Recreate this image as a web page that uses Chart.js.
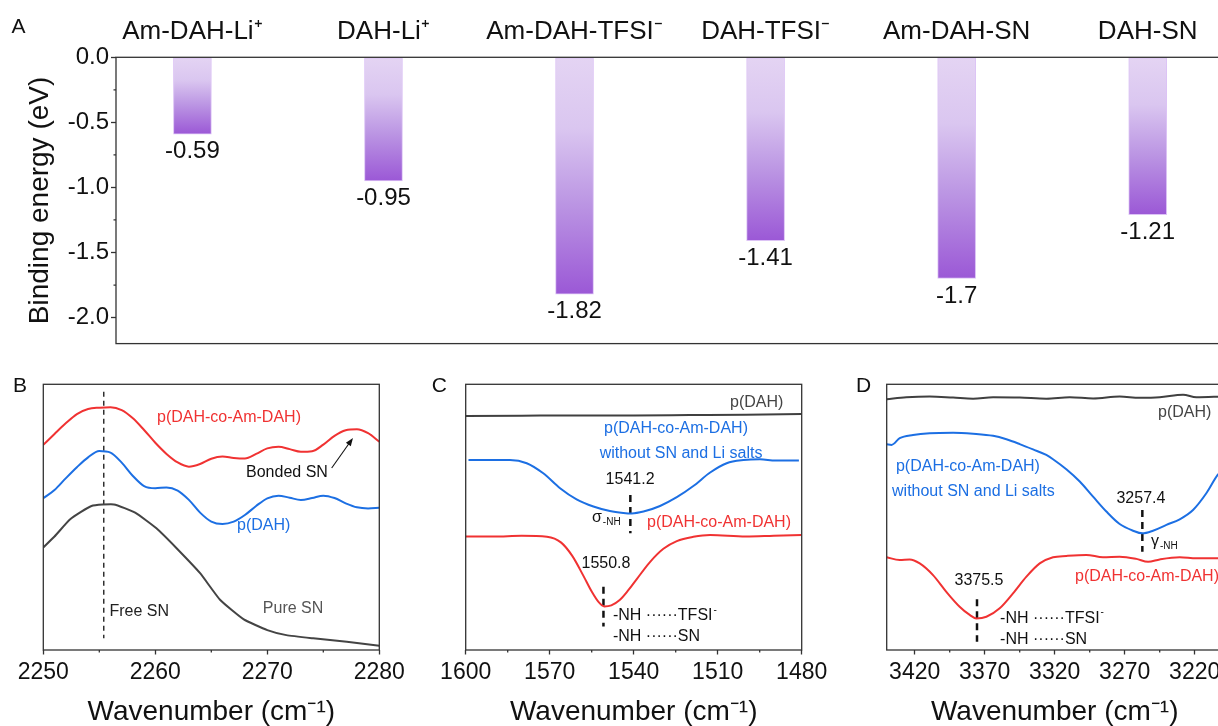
<!DOCTYPE html>
<html>
<head>
<meta charset="utf-8">
<title>Binding energy and FTIR</title>
<script src="https://cdn.jsdelivr.net/npm/chart.js@4.4.1/dist/chart.umd.min.js"></script>
<style>
  html, body { margin: 0; padding: 0; background: #fff; }
  #fig { position: relative; width: 1218px; height: 726px; overflow: hidden; }
  #fig canvas { position: absolute; }
</style>
</head>
<body>
<div id="fig">
  <canvas id="chartA" width="1310" height="360" style="left:0;top:0"></canvas>
  <canvas id="chartB" width="410" height="366" style="left:0;top:360px"></canvas>
  <canvas id="chartC" width="430" height="366" style="left:410px;top:360px"></canvas>
  <canvas id="chartD" width="440" height="366" style="left:820px;top:360px"></canvas>
</div>
<script>
var FONT = "'Liberation Sans', Arial, Helvetica, sans-serif";
Chart.defaults.font.family = FONT;
Chart.defaults.color = '#111';

// ---- A: binding energies ----
var aCats = ['Am-DAH-Li⁺', 'DAH-Li⁺', 'Am-DAH-TFSI⁻', 'DAH-TFSI⁻', 'Am-DAH-SN', 'DAH-SN'];
var aVals = [-0.59, -0.95, -1.82, -1.41, -1.7, -1.21];
var aTicks = [0, -0.5, -1, -1.5, -2];
var aMinor = [-0.25, -0.75, -1.25, -1.75];

// ---- B: C≡N region ----
var bWave = [2250, 2251, 2252, 2253, 2254, 2255, 2256, 2257, 2258, 2259, 2260, 2261, 2262, 2263, 2264, 2265,
             2266, 2267, 2268, 2269, 2270, 2271, 2272, 2273, 2274, 2275, 2276, 2277, 2278, 2279, 2280];
var bRed = [77.2, 81.3, 85.3, 88.8, 90.7, 91.2, 91.4, 90.3, 87.2, 82.8, 78.0, 73.8, 70.6, 69.0, 70.0, 72.0,
            72.8, 72.3, 72.1, 73.8, 75.9, 76.5, 75.6, 74.6, 74.8, 77.3, 80.6, 82.7, 83.1, 81.6, 78.4];
var bBlue = [57.1, 60.2, 64.6, 68.8, 72.5, 74.9, 74.3, 70.5, 65.5, 61.7, 60.9, 61.2, 60.0, 56.5, 51.7, 48.3,
             47.4, 48.3, 50.8, 54.2, 57.1, 58.1, 57.3, 56.5, 57.2, 58.1, 57.2, 55.2, 53.7, 53.3, 53.5];
var bPureWave = [2250, 2251, 2252.4, 2254.3, 2256.3, 2258.2, 2260.1, 2261.9, 2264, 2265.8, 2267.9, 2270, 2271.7, 2274.1, 2277.1, 2280];
var bPure = [38.6, 42.7, 49.2, 54.2, 54.8, 51.7, 45.8, 38.3, 28.9, 18.8, 11.5, 7.5, 5.6, 4.4, 3.1, 1.6];
var bPeaks = [2255.4];
var bPeakTop = [97.2];
var bPeakBot = [4.4];
var bTicks = [2250, 2260, 2270, 2280];
var bMinor = [2255, 2265, 2275];

// ---- C: N-H bending ----
var cGrayWave = [1600, 1580, 1560, 1540, 1520, 1500, 1480];
var cGray = [88.1, 88.2, 88.3, 88.3, 88.4, 88.5, 88.8];
var cBlueWave = [1599, 1584.2, 1578.2, 1572.3, 1566.3, 1560.4, 1554.4, 1548.5, 1543.7, 1540.7, 1536.5,
                 1530.6, 1524.6, 1518.7, 1512.7, 1506.8, 1500.8, 1494.9, 1489.3, 1481];
var cBlue = [71.5, 71.5, 70.3, 66.5, 60.9, 56.7, 54.0, 52.3, 51.6, 51.4, 52.1,
             54.2, 57.5, 61.7, 66.8, 70.3, 71.5, 71.8, 71.3, 71.3];
var cRedWave = [1600, 1590, 1580, 1571, 1566, 1562, 1558, 1555, 1552.5, 1550.5, 1548, 1545, 1542,
                1538.9, 1534.2, 1529.4, 1524.6, 1518.7, 1512.7, 1500, 1490, 1480];
var cRed = [42.7, 42.7, 43.0, 42.6, 40.5, 35.5, 28.0, 22.0, 18.0, 16.4, 16.8, 18.8, 22.4,
            26.7, 33.1, 38.1, 41.0, 42.6, 43.3, 42.7, 43.0, 43.3];
var cPeaks = [1541.2, 1550.8];
var cPeakTop = [58.3, 23.8];
var cPeakBot = [43.9, 8.8];
var cTicks = [1600, 1570, 1540, 1510, 1480];
var cMinor = [1585, 1555, 1525, 1495];

// ---- D: N-H stretching ----
var dGrayWave = [3440, 3426, 3409.3, 3392.6, 3378.3, 3364, 3345, 3326, 3309.3, 3292.6, 3273.6, 3259.3, 3245, 3228.3, 3218.8, 3200];
var dGray = [94.4, 95.1, 95.4, 95.0, 94.6, 95.1, 95.0, 94.6, 95.1, 94.7, 95.4, 94.9, 95.1, 96.1, 95.1, 95.4];
var dBlueWave = [3440, 3436.6, 3430.7, 3421.2, 3409.3, 3392.6, 3378.3, 3364, 3354.5, 3345, 3335.5, 3326, 3321.2, 3311.7,
                 3302.1, 3292.6, 3283.1, 3273.6, 3264, 3257.4, 3249.8, 3240.2, 3230.7, 3221.2, 3211.7, 3203.6, 3200];
var dBlue = [77.4, 77.2, 79.7, 80.9, 81.6, 81.8, 81.4, 80.6, 79.3, 77.5, 75.5, 73.4, 71.8, 68.0,
             63.4, 57.7, 52.1, 47.4, 44.9, 43.9, 44.9, 47.1, 49.2, 52.7, 59.0, 65.9, 67.8];
var dRedWave = [3440, 3430.7, 3423.6, 3416.4, 3406.9, 3397.4, 3387.9, 3380.7, 3376, 3368.8, 3359.3, 3349.8, 3340.2,
                3330.7, 3321.2, 3311.7, 3297.4, 3285.5, 3273.6, 3261.7, 3253.3, 3245, 3230.7, 3218.8, 3200];
var dRed = [34.9, 33.9, 34.1, 32.6, 28.2, 21.9, 16.3, 13.2, 11.9, 12.5, 15.7, 21.3, 27.6,
            32.6, 34.9, 35.4, 35.8, 34.9, 35.1, 34.3, 33.2, 34.1, 34.9, 34.5, 34.5];
var dPeaks = [3257.4, 3375.5];
var dPeakTop = [52.7, 19.1];
var dPeakBot = [37.0, 3.1];
var dTicks = [3420, 3370, 3320, 3270, 3220];
var dMinor = [3395, 3345, 3295, 3245];

var RED = '#f03232', BLUE = '#1c6fe3', GRAY = '#404040';
var NOTE = 16;

function pts(xs, ys) {
    return xs.map(function(x, i) { return {x: x, y: ys[i]}; });
}

function curve(xs, ys, color, extra) {
    return Object.assign({
        data: pts(xs, ys),
        borderColor: color,
        borderWidth: 2,
        pointRadius: 0,
        fill: false,
        cubicInterpolationMode: 'monotone'
    }, extra || {});
}

// dashed vertical markers at the peak positions
function markers(xs, tops, bots, width, dash) {
    return xs.map(function(x, i) {
        return {
            data: [{x: x, y: tops[i]}, {x: x, y: bots[i]}],
            borderColor: '#111',
            borderWidth: width,
            borderDash: dash,
            borderCapStyle: 'butt',
            pointRadius: 0,
            fill: false
        };
    });
}

function wnAxis(min, max, rev, major) {
    return {
        type: 'linear',
        min: min,
        max: max,
        reverse: rev,
        afterBuildTicks: function(s) { s.ticks = major.map(function(v) { return {value: v}; }); },
        afterFit: function(s) { s.height = 76; },
        ticks: {
            font: {size: 23},
            padding: 4,
            maxRotation: 0,
            autoSkip: false,
            color: '#111',
            callback: function(v) { return String(v); }
        },
        grid: {display: true, drawOnChartArea: false, tickLength: 4.5, tickColor: '#333', tickWidth: 1.3},
        border: {display: false},
        title: {
            display: true,
            text: 'Wavenumber (cm⁻¹)',
            color: '#111',
            font: {size: 28, lineHeight: 1},
            padding: {top: 0, bottom: 0}
        }
    };
}

// frame, minor ticks, panel letter, text notes and arrows
function deco(cfg) {
    return {
        id: 'deco',
        afterDraw: function(chart) {
            var ctx = chart.ctx, a = chart.chartArea;
            var xs = chart.scales.x, ys = chart.scales.y;
            ctx.save();
            ctx.strokeStyle = '#333';
            ctx.lineWidth = 1.3;
            ctx.strokeRect(a.left, a.top, a.right - a.left, a.bottom - a.top);

            var ms = chart.scales[cfg.minorAxis];
            ctx.beginPath();
            cfg.minor.forEach(function(v) {
                var p = ms.getPixelForValue(v);
                if (ms.isHorizontal()) { ctx.moveTo(p, a.bottom); ctx.lineTo(p, a.bottom + 2.5); }
                else { ctx.moveTo(a.left, p); ctx.lineTo(a.left - 2.5, p); }
            });
            ctx.stroke();

            ctx.fillStyle = '#111';
            ctx.font = '21px ' + FONT;
            ctx.textAlign = 'left';
            ctx.textBaseline = 'alphabetic';
            ctx.fillText(cfg.letter, cfg.lx, cfg.ly);

            (cfg.notes || []).forEach(function(n) {
                var t = n[0], px = xs.getPixelForValue(n[1]), py = ys.getPixelForValue(n[2]);
                var sub = n[5], sup = n[6];
                ctx.textBaseline = 'middle';
                ctx.textAlign = 'left';
                ctx.font = NOTE + 'px ' + FONT;
                var w = ctx.measureText(t).width;
                var extra = 0;
                ctx.font = '10px ' + FONT;
                if (sub) extra = ctx.measureText(sub).width + 1;
                if (sup) extra = ctx.measureText(sup).width + 1;
                var left = n[4] === 'center' ? px - (w + extra) / 2 : px;
                ctx.fillStyle = n[3];
                ctx.font = NOTE + 'px ' + FONT;
                ctx.fillText(t, left, py);
                ctx.font = '10px ' + FONT;
                if (sub) ctx.fillText(sub, left + w + 1, py + 5);
                if (sup) ctx.fillText(sup, left + w + 1, py - 6);
            });

            (cfg.arrows || []).forEach(function(r) {
                var x1 = xs.getPixelForValue(r[0]), y1 = ys.getPixelForValue(r[1]);
                var x2 = xs.getPixelForValue(r[2]), y2 = ys.getPixelForValue(r[3]);
                var ang = Math.atan2(y2 - y1, x2 - x1);
                ctx.strokeStyle = '#111';
                ctx.fillStyle = '#111';
                ctx.lineWidth = 1.1;
                ctx.beginPath();
                ctx.moveTo(x1, y1);
                ctx.lineTo(x2 - 5 * Math.cos(ang), y2 - 5 * Math.sin(ang));
                ctx.stroke();
                ctx.beginPath();
                ctx.moveTo(x2, y2);
                ctx.lineTo(x2 - 8 * Math.cos(ang) + 3 * Math.sin(ang), y2 - 8 * Math.sin(ang) - 3 * Math.cos(ang));
                ctx.lineTo(x2 - 8 * Math.cos(ang) - 3 * Math.sin(ang), y2 - 8 * Math.sin(ang) + 3 * Math.cos(ang));
                ctx.closePath();
                ctx.fill();
            });
            ctx.restore();
        }
    };
}

// value labels under the bars
var barLabels = {
    id: 'barLabels',
    afterDatasetsDraw: function(chart) {
        var ctx = chart.ctx;
        ctx.save();
        ctx.fillStyle = '#111';
        ctx.font = '24px ' + FONT;
        ctx.textAlign = 'center';
        ctx.textBaseline = 'alphabetic';
        chart.getDatasetMeta(0).data.forEach(function(bar, i) {
            ctx.fillText(String(aVals[i]), bar.x, bar.y + 24);
        });
        ctx.restore();
    }
};

function barFill(c) {
    var ch = c.chart;
    if (!ch.chartArea || c.dataIndex === undefined) return '#b890e2';
    var ys = ch.scales.y;
    var g = ch.ctx.createLinearGradient(0, ys.getPixelForValue(0), 0, ys.getPixelForValue(aVals[c.dataIndex]));
    g.addColorStop(0, '#e4d4f3');
    g.addColorStop(0.3, '#dac6f0');
    g.addColorStop(0.62, '#bb95e3');
    g.addColorStop(1, '#9b58d6');
    return g;
}

new Chart('chartA', {
    type: 'bar',
    data: {
        datasets: [{
            data: pts(aVals.map(function(v, i) { return i; }), aVals),
            backgroundColor: barFill,
            borderColor: '#dcc3f5',
            borderWidth: 1,
            borderSkipped: false,
            barThickness: 38
        }]
    },
    options: {
        responsive: false,
        animation: false,
        layout: {autoPadding: false, padding: {left: 0, top: 0, right: 19, bottom: 0}},
        plugins: {legend: {display: false}, tooltip: {enabled: false}},
        scales: {
            x: {
                type: 'linear', min: -0.4, max: 5.75, offset: false,
                ticks: {display: false},
                grid: {display: false, offset: false},
                border: {display: false},
                afterFit: function(s) { s.height = 9.3; }
            },
            xt: {
                type: 'linear', position: 'top', min: -0.4, max: 5.75, offset: false,
                afterBuildTicks: function(s) { s.ticks = aCats.map(function(c, i) { return {value: i}; }); },
                afterFit: function(s) { s.height = 57.3; },
                ticks: {
                    font: {size: 26}, padding: 10, maxRotation: 0, autoSkip: false, color: '#111',
                    callback: function(v) { return aCats[v]; }
                },
                grid: {display: false, drawTicks: false},
                border: {display: false}
            },
            y: {
                min: -2.2, max: 0,
                afterBuildTicks: function(s) { s.ticks = aTicks.map(function(v) { return {value: v}; }); },
                afterFit: function(s) { s.width = 116; },
                ticks: {
                    font: {size: 24}, padding: 2, color: '#111',
                    callback: function(v) { return v.toFixed(1); }
                },
                grid: {display: true, drawOnChartArea: false, tickLength: 5, tickColor: '#333', tickWidth: 1.3},
                border: {display: false},
                title: {
                    display: true, text: 'Binding energy (eV)', color: '#111',
                    font: {size: 28}, padding: {top: 23.5, bottom: 0}
                }
            }
        }
    },
    plugins: [barLabels, deco({letter: 'A', lx: 11.5, ly: 33, minorAxis: 'y', minor: aMinor})]
});

var bNotes = [
    ['p(DAH-co-Am-DAH)', 2260.15, 87.3, RED, 'left'],
    ['Bonded SN', 2268.1, 66.6, '#111', 'left'],
    ['p(DAH)', 2267.3, 47.0, BLUE, 'left'],
    ['Free SN', 2255.9, 14.3, '#222', 'left'],
    ['Pure SN', 2269.6, 15.4, '#555', 'left']
];

new Chart('chartB', {
    type: 'line',
    data: {
        datasets: [
            curve(bWave, bRed, RED),
            curve(bWave, bBlue, BLUE),
            curve(bPureWave, bPure, '#444', {cubicInterpolationMode: 'default', tension: 0.15})
        ].concat(markers(bPeaks, bPeakTop, bPeakBot, 1.3, [5, 4]))
    },
    options: {
        responsive: false,
        animation: false,
        layout: {autoPadding: false, padding: {left: 43.3, top: 24.3, right: 30.7, bottom: 0}},
        plugins: {legend: {display: false}, tooltip: {enabled: false}},
        scales: {x: wnAxis(2250, 2280, false, bTicks), y: {display: false, min: 0, max: 100}}
    },
    plugins: [deco({letter: 'B', lx: 13, ly: 31.7, minorAxis: 'x', minor: bMinor, notes: bNotes,
                    arrows: [[2275.75, 68.5, 2277.65, 79.8]]})]
});

var cNotes = [
    ['p(DAH)', 1505.6, 93.1, '#444', 'left'],
    ['p(DAH-co-Am-DAH)', 1524.9, 83.2, BLUE, 'center'],
    ['without SN and Li salts', 1523.1, 74.1, BLUE, 'center'],
    ['1541.2', 1541.3, 64.0, '#111', 'center'],
    ['σ', 1554.9, 49.8, '#111', 'left', '-NH'],
    ['p(DAH-co-Am-DAH)', 1535.25, 47.8, RED, 'left'],
    ['1550.8', 1549.9, 32.4, '#111', 'center'],
    ['-NH ······TFSI', 1547.4, 12.8, '#111', 'left', null, '-'],
    ['-NH ······SN', 1547.4, 4.9, '#111', 'left']
];

new Chart('chartC', {
    type: 'line',
    data: {
        datasets: [
            curve(cGrayWave, cGray, GRAY),
            curve(cBlueWave, cBlue, BLUE),
            curve(cRedWave, cRed, RED)
        ].concat(markers(cPeaks, cPeakTop, cPeakBot, 2.5, [7, 5]))
    },
    options: {
        responsive: false,
        animation: false,
        layout: {autoPadding: false, padding: {left: 55.7, top: 24.3, right: 38.3, bottom: 0}},
        plugins: {legend: {display: false}, tooltip: {enabled: false}},
        scales: {x: wnAxis(1480, 1600, true, cTicks), y: {display: false, min: 0, max: 100}}
    },
    plugins: [deco({letter: 'C', lx: 21.7, ly: 31.7, minorAxis: 'x', minor: cMinor, notes: cNotes})]
});

var dNotes = [
    ['p(DAH)', 3246.2, 89.2, '#444', 'left'],
    ['p(DAH-co-Am-DAH)', 3433.4, 68.9, BLUE, 'left'],
    ['without SN and Li salts', 3436.2, 59.8, BLUE, 'left'],
    ['3257.4', 3258.4, 56.8, '#111', 'center'],
    ['γ', 3251.2, 40.8, '#111', 'left', '-NH'],
    ['p(DAH-co-Am-DAH)', 3305.5, 27.5, RED, 'left'],
    ['3375.5', 3374.1, 26.0, '#111', 'center'],
    ['-NH ······TFSI', 3359, 12.0, '#111', 'left', null, '-'],
    ['-NH ······SN', 3359, 4.1, '#111', 'left']
];

new Chart('chartD', {
    type: 'line',
    data: {
        datasets: [
            curve(dGrayWave, dGray, GRAY),
            curve(dBlueWave, dBlue, BLUE),
            curve(dRedWave, dRed, RED)
        ].concat(markers(dPeaks, dPeakTop, dPeakBot, 2.5, [7, 5]))
    },
    options: {
        responsive: false,
        animation: false,
        layout: {autoPadding: false, padding: {left: 66.7, top: 24.3, right: 37.3, bottom: 0}},
        plugins: {legend: {display: false}, tooltip: {enabled: false}},
        scales: {x: wnAxis(3200, 3440, true, dTicks), y: {display: false, min: 0, max: 100}}
    },
    plugins: [deco({letter: 'D', lx: 36, ly: 31.7, minorAxis: 'x', minor: dMinor, notes: dNotes})]
});
</script>
</body>
</html>
